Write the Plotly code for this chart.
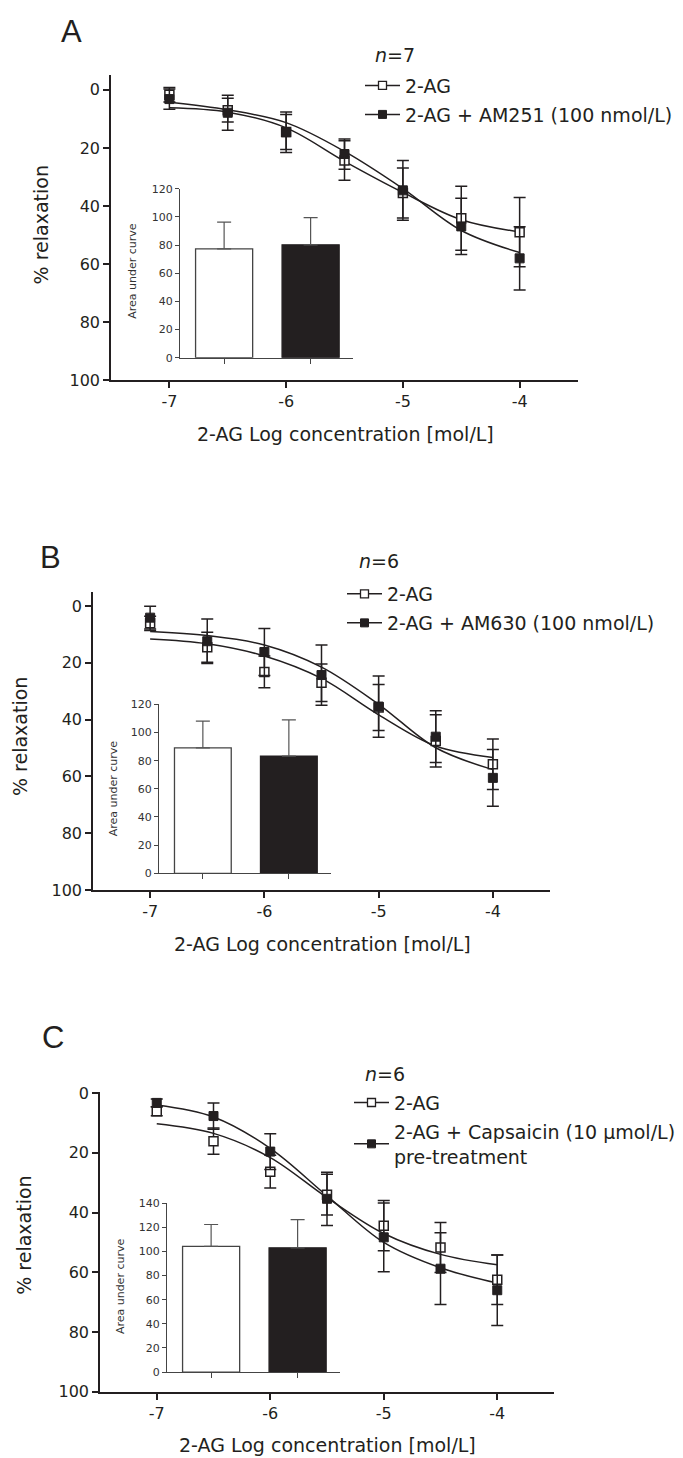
import plotly.graph_objects as go

# ---------------- data ----------------
conc = [-7, -6.5, -6, -5.5, -5, -4.5, -4]
x_tick_vals = [-7, -6, -5, -4]
x_tick_labels = ["-7", "-6", "-5", "-4"]
y_tick_vals = [0, 20, 40, 60, 80, 100]

# Panel A
a_2ag_mean = [1.7, 7.0, 14.5, 24.3, 35.5, 44.2, 49.0]
a_2ag_sem = [2.5, 4.1, 6.0, 6.8, 8.6, 11.0, 11.9]
a_am251_mean = [3.2, 7.9, 14.6, 22.1, 34.6, 47.0, 58.0]
a_am251_sem = [3.5, 6.0, 7.0, 5.2, 10.3, 9.7, 10.9]
a_2ag_fit = [6.2, 7.7, 13.1, 24.6, 35.3, 44.7, 48.9]
a_am251_fit = [4.3, 6.9, 11.3, 21.2, 34.0, 48.4, 56.0]
a_groups = ["2-AG", "2-AG + AM251"]
a_auc = [77.4, 80.2]
a_auc_sem = [19.0, 19.4]

# Panel B
b_2ag_mean = [6.1, 14.5, 23.2, 27.0, 35.7, 47.5, 55.7]
b_2ag_sem = [2.5, 5.3, 5.6, 6.6, 8.1, 9.2, 8.9]
b_am630_mean = [4.1, 12.4, 16.2, 24.3, 35.4, 46.0, 60.5]
b_am630_sem = [4.0, 7.8, 8.3, 10.6, 10.8, 9.1, 10.0]
b_2ag_fit = [11.6, 13.3, 17.6, 25.5, 38.3, 49.3, 53.3]
b_am630_fit = [9.0, 10.4, 13.7, 21.5, 34.6, 49.9, 57.6]
b_groups = ["2-AG", "2-AG + AM630"]
b_auc = [89.1, 83.3]
b_auc_sem = [19.0, 25.7]

# Panel C
c_2ag_mean = [6.1, 16.1, 26.3, 34.0, 44.4, 51.7, 62.5]
c_2ag_sem = [1.5, 4.4, 5.5, 6.8, 8.4, 8.4, 8.3]
c_cap_mean = [3.3, 7.7, 19.6, 35.4, 48.3, 58.8, 66.0]
c_cap_sem = [1.3, 4.4, 6.0, 8.9, 11.5, 12.0, 11.8]
c_2ag_fit = [10.3, 13.5, 21.6, 35.0, 47.0, 54.0, 57.5]
c_cap_fit = [4.0, 8.0, 18.5, 34.4, 50.0, 58.5, 63.6]
c_groups = ["2-AG", "2-AG + Capsaicin"]
c_auc = [104.1, 103.0]
c_auc_sem = [18.2, 23.4]

# ---------------- styling helpers ----------------
W, H = 683, 1458
INK = "#231f20"
FONT = "DejaVu Sans"


def xd(a, b):
    return [a / W, b / W]


def yd(top, bottom):
    return [1 - bottom / H, 1 - top / H]


def px(x):
    return x / W


def py(y):
    return 1 - y / H


fig = go.Figure()


def add_panel(k, mean_open, sem_open, mean_fill, sem_fill, fit_open, fit_fill,
              names, legend_id, groups, auc, auc_sem):
    ax = "" if k == 1 else str(k)
    xa, ya = "x" + ax, "y" + ax
    # fitted curves
    for fit in (fit_open, fit_fill):
        fig.add_trace(go.Scatter(
            x=conc, y=fit, mode="lines", line=dict(color=INK, width=1.5, shape="spline", smoothing=1.0),
            xaxis=xa, yaxis=ya, showlegend=False, hoverinfo="skip"))
    # data points
    fig.add_trace(go.Scatter(
        x=conc, y=mean_open, mode="markers",
        marker=dict(symbol="square", size=9, color="white", line=dict(color=INK, width=1.5)),
        error_y=dict(type="data", array=sem_open, color=INK, thickness=1.5, width=6),
        xaxis=xa, yaxis=ya, showlegend=False))
    fig.add_trace(go.Scatter(
        x=conc, y=mean_fill, mode="markers",
        marker=dict(symbol="square", size=9, color=INK, line=dict(color=INK, width=1)),
        error_y=dict(type="data", array=sem_fill, color=INK, thickness=1.5, width=6),
        xaxis=xa, yaxis=ya, showlegend=False))
    # legend entries
    fig.add_trace(go.Scatter(
        x=[None], y=[None], mode="lines+markers", name=names[0],
        line=dict(color=INK, width=1.5), legendgroup=legend_id + "_open",
        marker=dict(symbol="square", size=8, color="white", line=dict(color=INK, width=1.3)),
        xaxis=xa, yaxis=ya, legend=legend_id))
    fig.add_trace(go.Scatter(
        x=[None], y=[None], mode="lines+markers", name=names[1],
        line=dict(color=INK, width=1.5), legendgroup=legend_id + "_fill",
        marker=dict(symbol="square", size=8, color=INK, line=dict(color=INK, width=1)),
        xaxis=xa, yaxis=ya, legend=legend_id))
    # inset bars
    ia = str(k + 1)
    fig.add_trace(go.Bar(
        x=groups, y=auc, width=0.66,
        marker=dict(color=["white", INK], line=dict(color=["#444444", INK], width=1.3)),
        error_y=dict(type="data", symmetric=False, array=auc_sem, arrayminus=[0, 0],
                     color="#555555", thickness=1.2, width=7),
        xaxis="x" + ia, yaxis="y" + ia, showlegend=False))


add_panel(1, a_2ag_mean, a_2ag_sem, a_am251_mean, a_am251_sem, a_2ag_fit, a_am251_fit,
          ["2-AG", "2-AG + AM251 (100 nmol/L)"], "legend", a_groups, a_auc, a_auc_sem)
add_panel(3, b_2ag_mean, b_2ag_sem, b_am630_mean, b_am630_sem, b_2ag_fit, b_am630_fit,
          ["2-AG", "2-AG + AM630 (100 nmol/L)"], "legend2", b_groups, b_auc, b_auc_sem)
add_panel(5, c_2ag_mean, c_2ag_sem, c_cap_mean, c_cap_sem, c_2ag_fit, c_cap_fit,
          ["2-AG", "2-AG + Capsaicin (10 μmol/L)<br>pre-treatment"], "legend3", c_groups, c_auc, c_auc_sem)

main_axis = dict(showline=True, linewidth=1.5, linecolor=INK, ticks="outside", ticklen=6,
                 tickwidth=1.5, tickcolor=INK, showgrid=False, zeroline=False,
                 tickfont=dict(family=FONT, size=16, color=INK))
inset_axis = dict(showline=True, linewidth=1.2, linecolor="#444444", ticks="outside", ticklen=4,
                  tickwidth=1.1, tickcolor="#444444", showgrid=False, zeroline=False,
                  tickfont=dict(family=FONT, size=11, color="#333333"))

mains = {
    1: dict(x=(103, 570), y=(60, 369), yr=[100, -5]),
    3: dict(x=(85, 542), y=(583, 885), yr=[100, -5]),
    5: dict(x=(92, 546), y=(1089, 1393), yr=[100, -0.5]),
}
insets = {
    2: dict(x=(172, 345), y=(175, 346), yr=[0, 120]),
    4: dict(x=(151, 323), y=(697, 868), yr=[0, 120]),
    6: dict(x=(159, 332), y=(1202, 1373), yr=[0, 140]),
}

lay = {}
for k, d in mains.items():
    s = "" if k == 1 else str(k)
    lay["xaxis" + s] = dict(main_axis, domain=xd(*d["x"]), range=[-7.5, -3.5],
                            tickvals=x_tick_vals, ticktext=x_tick_labels, anchor="y" + s)
    lay["yaxis" + s] = dict(main_axis, domain=yd(*d["y"]), range=d["yr"],
                            tickvals=y_tick_vals, anchor="x" + s)
for k, d in insets.items():
    s = str(k)
    lay["xaxis" + s] = dict(inset_axis, domain=xd(*d["x"]), range=[-0.51, 1.49],
                            showticklabels=False, anchor="y" + s, ticklen=5)
    lay["yaxis" + s] = dict(inset_axis, domain=yd(*d["y"]), range=d["yr"], dtick=20,
                            anchor="x" + s)

leg_font = dict(family=FONT, size=19, color=INK)
legend_common = dict(font=leg_font, bgcolor="rgba(0,0,0,0)", borderwidth=0,
                     xanchor="left", yanchor="top", tracegroupgap=1.3, itemwidth=35,
                     itemclick=False, groupclick="toggleitem")

annotations = []


def text(x, y, s, size=19, angle=0, family=FONT, color=INK):
    annotations.append(dict(x=px(x), y=py(y), xref="paper", yref="paper", text=s, showarrow=False,
                            xanchor="center", yanchor="middle", textangle=angle,
                            font=dict(family=family, size=size, color=color)))


# panel letters
text(63, 16, "A", size=31, family="Liberation Sans")
text(42, 548, "B", size=31, family="Liberation Sans")
text(45, 1034, "C", size=31, family="Liberation Sans")
# n labels
text(387, 39, "<i>n</i>=7")
text(371, 552, "<i>n</i>=6")
text(377, 1071, "<i>n</i>=6")
# axis titles
text(337, 423, "2-AG Log concentration [mol/L]")
text(314, 940, "2-AG Log concentration [mol/L]")
text(319, 1447, "2-AG Log concentration [mol/L]")
text(33, 212, "% relaxation", angle=-90)
text(12, 730, "% relaxation", angle=-90)
text(16, 1235, "% relaxation", angle=-90)
text(125, 258, "Area under curve", size=11, angle=-90, color="#333333")
text(105, 782, "Area under curve", size=11, angle=-90, color="#333333")
text(112, 1286, "Area under curve", size=11, angle=-90, color="#333333")

fig.update_layout(
    width=W, height=H, margin=dict(l=0, r=0, t=0, b=0),
    paper_bgcolor="white", plot_bgcolor="rgba(0,0,0,0)",
    barmode="overlay",
    legend=dict(legend_common, x=px(352), y=py(51.2)),
    legend2=dict(legend_common, x=px(334), y=py(566)),
    legend3=dict(legend_common, x=px(341), y=py(1081)),
    annotations=annotations,
    **lay,
)

fig.write_html("out.html")
